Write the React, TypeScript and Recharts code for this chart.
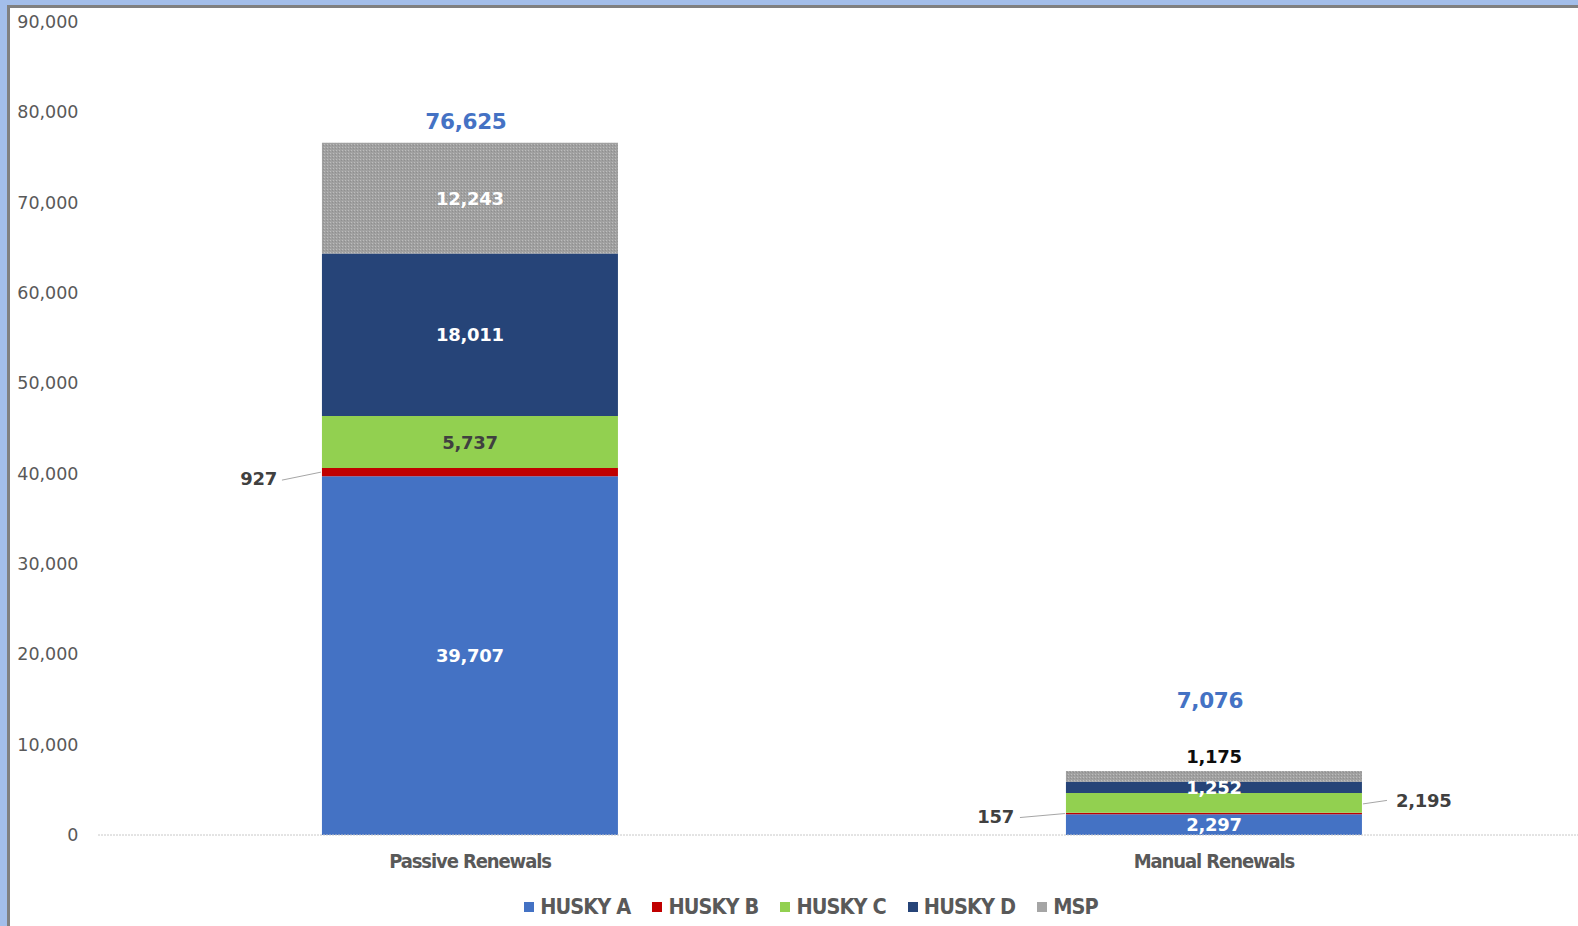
import React from "react";
import { BarChart, Bar, XAxis, YAxis, Legend, LabelList } from "recharts";

const categories = ["Passive Renewals", "Manual Renewals"];
const huskyA = [39707, 2297];
const huskyB = [927, 157];
const huskyC = [5737, 2195];
const huskyD = [18011, 1252];
const msp = [12243, 1175];
const totals = [76625, 7076];
const yTicks = [0, 10000, 20000, 30000, 40000, 50000, 60000, 70000, 80000, 90000];

const seriesNames = ["HUSKY A", "HUSKY B", "HUSKY C", "HUSKY D", "MSP"];
const seriesColors = ["#4472C4", "#C00000", "#92D050", "#264478", "#A5A5A5"];

const data = categories.map((c, i) => ({
  name: c,
  huskyA: huskyA[i],
  huskyB: huskyB[i],
  huskyC: huskyC[i],
  huskyD: huskyD[i],
  msp: msp[i],
  total: totals[i],
}));

const NUM_FONT = "'DejaVu Sans', Verdana, sans-serif";
const TXT_FONT = "'Liberation Sans Narrow', 'DejaVu Sans Condensed', 'Arial Narrow', sans-serif";
const fmt = (v: number) => v.toLocaleString("en-US");

// label placement styling (per category index)
const totalLift = [21, 70];
const leftLabelGap = [45, 52];
const leftLabelDy = [13, 9];
const leftLineStart = [40, 46];
const leftLineDy = [8, 4];

const textProps = {
  fontFamily: NUM_FONT,
  fontWeight: 700,
  fontSize: 18,
  letterSpacing: -0.3,
};

function InsideLabel(color: string) {
  return (props: any) => {
    const { x, y, width, height, value } = props;
    return (
      <text
        x={x + width / 2}
        y={y + height / 2}
        dy={6.5}
        textAnchor="middle"
        fill={color}
        {...textProps}
      >
        {fmt(value)}
      </text>
    );
  };
}

const labelB = (props: any) => {
  const { x, y, height, value, index } = props;
  const cy = y + height / 2;
  return (
    <g>
      <line
        x1={x - leftLineStart[index]}
        y1={cy + leftLineDy[index]}
        x2={x - 1}
        y2={cy}
        stroke="#A6A6A6"
        strokeWidth={1}
      />
      <text x={x - leftLabelGap[index]} y={cy + leftLabelDy[index]} textAnchor="end" fill="#404040" {...textProps}>
        {fmt(value)}
      </text>
    </g>
  );
};

const labelC = (props: any) => {
  const { x, y, width, height, value, index } = props;
  const cy = y + height / 2;
  if (index === 1) {
    return (
      <g>
        <line x1={x + width + 1} y1={cy + 1} x2={x + width + 25} y2={cy - 2.5} stroke="#A6A6A6" strokeWidth={1} />
        <text x={x + width + 34} y={cy + 4} textAnchor="start" fill="#404040" {...textProps}>
          {fmt(value)}
        </text>
      </g>
    );
  }
  return (
    <text x={x + width / 2} y={cy} dy={6.5} textAnchor="middle" fill="#404040" {...textProps}>
      {fmt(value)}
    </text>
  );
};

const labelMsp = (props: any) => {
  const { x, y, width, height, value, index } = props;
  const cx = x + width / 2;
  const tot = totals[index];
  return (
    <g>
      {index === 1 ? (
        <text x={cx} y={y - 14} dy={6} textAnchor="middle" fill="#0D0D0D" {...textProps}>
          {fmt(value)}
        </text>
      ) : (
        <text x={cx} y={y + height / 2} dy={6.5} textAnchor="middle" fill="#FFFFFF" {...textProps}>
          {fmt(value)}
        </text>
      )}
      <text
        x={cx - 4}
        y={y - totalLift[index]}
        dy={7}
        textAnchor="middle"
        fill="#4472C4"
        fontFamily={NUM_FONT}
        fontWeight={700}
        fontSize={21.5}
        letterSpacing={-0.3}
      >
        {fmt(tot)}
      </text>
    </g>
  );
};

const CategoryTick = (props: any) => {
  const { x, y, payload } = props;
  return (
    <text
      x={x}
      y={y + 25}
      textAnchor="middle"
      fill="#595959"
      fontFamily={TXT_FONT}
      fontWeight={700}
      fontSize={20}
      letterSpacing={-1.1}
    >
      {payload.value}
    </text>
  );
};

const YTick = (props: any) => {
  const { y, payload } = props;
  return (
    <text x={78.5} y={y + 6} textAnchor="end" fill="#595959" fontFamily={NUM_FONT} fontSize={17.5}>
      {fmt(payload.value)}
    </text>
  );
};

const LegendContent = (props: any) => {
  const { payload } = props;
  return (
    <div
      style={{
        display: "flex",
        justifyContent: "center",
        alignItems: "center",
        height: 24,
        gap: 22,
      }}
    >
      {(payload || []).map((p: any) => (
        <div key={p.value} style={{ display: "flex", alignItems: "center" }}>
          <span
            style={{
              display: "inline-block",
              width: 10,
              height: 10,
              background: seriesColors[seriesNames.indexOf(p.value)],
              marginRight: 6,
            }}
          />
          <span
            style={{
              fontFamily: TXT_FONT,
              fontWeight: 700,
              fontSize: 21.5,
              color: "#595959",
              letterSpacing: -0.9,
              lineHeight: "24px",
            }}
          >
            {p.value}
          </span>
        </div>
      ))}
    </div>
  );
};

export default function App() {
  return (
    <div
      style={{
        position: "absolute",
        left: 0,
        top: 0,
        width: 1578,
        height: 926,
        background: "#A3BEEA",
        overflow: "hidden",
      }}
    >
      <div
        style={{
          position: "absolute",
          left: 7,
          top: 5,
          right: 0,
          bottom: 0,
          background: "#FFFFFF",
          borderLeft: "3px solid #808080",
          borderTop: "3px solid #808080",
        }}
      />
      <div style={{ position: "absolute", left: 0, top: 0 }}>
        <BarChart
          width={1578}
          height={926}
          data={data}
          margin={{ top: 22, right: -8, left: 0, bottom: 37 }}
          barCategoryGap="30.1%"
        >
          <defs>
            <pattern id="mspPattern" width="3" height="3" patternUnits="userSpaceOnUse">
              <rect width="3" height="3" fill="#A0A0A0" />
              <rect x="0" y="0" width="1" height="1" fill="#BDBDBD" />
              <rect x="2" y="1" width="1" height="1" fill="#8F8F8F" />
            </pattern>
          </defs>
          <XAxis
            dataKey="name"
            axisLine={{ stroke: "#C8C8C8", strokeDasharray: "2 1" }}
            tickLine={false}
            tick={<CategoryTick />}
            height={30}
          />
          <YAxis
            domain={[0, 90000]}
            ticks={yTicks}
            width={98}
            axisLine={false}
            tickLine={false}
            tick={<YTick />}
            interval={0}
          />
          <Legend
            verticalAlign="bottom"
            content={<LegendContent />}
            wrapperStyle={{ top: 895, left: 27, width: 1568, bottom: "auto" }}
          />
          <Bar dataKey="huskyA" name="HUSKY A" stackId="s" fill={seriesColors[0]} isAnimationActive={false}>
            <LabelList dataKey="huskyA" content={InsideLabel("#FFFFFF")} />
          </Bar>
          <Bar dataKey="huskyB" name="HUSKY B" stackId="s" fill={seriesColors[1]} isAnimationActive={false}>
            <LabelList dataKey="huskyB" content={labelB} />
          </Bar>
          <Bar dataKey="huskyC" name="HUSKY C" stackId="s" fill={seriesColors[2]} isAnimationActive={false}>
            <LabelList dataKey="huskyC" content={labelC} />
          </Bar>
          <Bar dataKey="huskyD" name="HUSKY D" stackId="s" fill={seriesColors[3]} isAnimationActive={false}>
            <LabelList dataKey="huskyD" content={InsideLabel("#FFFFFF")} />
          </Bar>
          <Bar dataKey="msp" name="MSP" stackId="s" fill="url(#mspPattern)" isAnimationActive={false}>
            <LabelList dataKey="msp" content={labelMsp} />
          </Bar>
        </BarChart>
      </div>
    </div>
  );
}
